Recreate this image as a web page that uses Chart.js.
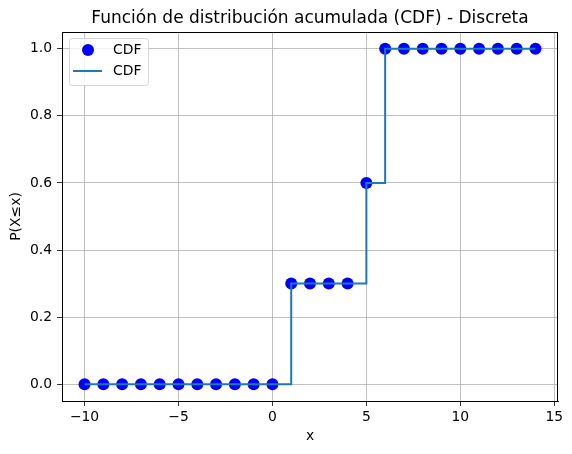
<!DOCTYPE html>
<html>
<head>
<meta charset="utf-8">
<script src="https://cdn.jsdelivr.net/npm/chart.js@4"></script>
<style>
	html, body { margin: 0; padding: 0; background: #fff; }
	#wrap { width: 572px; height: 454px; }
</style>
</head>
<body>
<div id="wrap"><canvas id="myChart" width="572" height="454"></canvas></div>
<script>
// datos
const xValues = [-10, -9, -8, -7, -6, -5, -4, -3, -2, -1, 0, 1, 2, 3, 4, 5, 6, 7, 8, 9, 10, 11, 12, 13, 14]
const cdfValues = [0, 0, 0, 0, 0, 0, 0, 0, 0, 0, 0, 0.3, 0.3, 0.3, 0.3, 0.6, 1, 1, 1, 1, 1, 1, 1, 1, 1]
const xTicks = [-10, -5, 0, 5, 10, 15]
const yTicks = [0, 0.2, 0.4, 0.6, 0.8, 1.0]
const titulo = 'Función de distribución acumulada (CDF) - Discreta'
const xLabel = 'x'
const yLabel = 'P(X≤x)'
const serieLabels = ['CDF', 'CDF']

const FONT = 'DejaVu Sans'
const points = xValues.map((x, i) => ({ x: x, y: cdfValues[i] }))

// titulo, bordes y leyenda al estilo matplotlib
const extras = {
	id: 'extras',
	afterDatasetsDraw(chart) {
		const ctx = chart.ctx
		const ca = chart.chartArea
		ctx.save()
		ctx.strokeStyle = '#000'
		ctx.lineWidth = 1
		ctx.strokeRect(ca.left + 0.5, ca.top + 0.5, ca.right - ca.left - 1, ca.bottom - ca.top)

		ctx.fillStyle = '#000'
		ctx.font = '17px "' + FONT + '"'
		ctx.textAlign = 'center'
		ctx.textBaseline = 'alphabetic'
		ctx.fillText(titulo, (ca.left + ca.right) / 2, 23)

		// leyenda
		const x0 = ca.left + 7, y0 = ca.top + 6, w = 79, h = 47, r = 3
		ctx.beginPath()
		ctx.roundRect(x0 + 0.5, y0 + 0.5, w, h, r)
		ctx.fillStyle = 'rgba(255,255,255,0.8)'
		ctx.fill()
		ctx.strokeStyle = 'rgba(204,204,204,0.8)'
		ctx.stroke()

		const ds = chart.data.datasets
		ctx.beginPath()
		ctx.arc(x0 + 19, y0 + 12, 6, 0, Math.PI * 2)
		ctx.fillStyle = ds[0].backgroundColor
		ctx.fill()

		ctx.beginPath()
		ctx.moveTo(x0 + 4, y0 + 33)
		ctx.lineTo(x0 + 33, y0 + 33)
		ctx.strokeStyle = ds[1].borderColor
		ctx.lineWidth = 2
		ctx.stroke()

		ctx.fillStyle = '#000'
		ctx.font = '13.9px "' + FONT + '"'
		ctx.textAlign = 'left'
		ctx.textBaseline = 'middle'
		ctx.fillText(ds[0].label, x0 + 44, y0 + 12)
		ctx.fillText(ds[1].label, x0 + 44, y0 + 33)
		ctx.restore()
	}
}

const grid = {
	color: '#b0b0b0',
	lineWidth: 0.8,
	drawTicks: true,
	tickLength: 5,
	tickColor: '#000',
}

new Chart(document.getElementById('myChart').getContext('2d'), {
	type: 'scatter',
	data: {
		datasets: [
			{
				label: serieLabels[0],
				data: points,
				backgroundColor: '#0000ff',
				borderWidth: 0,
				pointRadius: 6,
				pointHoverRadius: 6,
				order: 2,
			},
			{
				type: 'line',
				label: serieLabels[1],
				data: points,
				borderColor: '#1f77b4',
				backgroundColor: '#1f77b4',
				borderWidth: 2,
				pointRadius: 0,
				fill: false,
				stepped: 'before',
				tension: 0,
				order: 1,
			},
		],
	},
	options: {
		responsive: false,
		animation: false,
		layout: { padding: { top: 32, right: 14, left: 0, bottom: 0 } },
		plugins: {
			legend: { display: false },
			title: { display: false },
			tooltip: { enabled: false },
		},
		scales: {
			x: {
				type: 'linear',
				min: -11.2,
				max: 15.2,
				grid: grid,
				border: { color: '#000', width: 1 },
				afterBuildTicks: (scale) => { scale.ticks = xTicks.map(v => ({ value: v })) },
				afterFit: (scale) => { scale.height = 53 },
				ticks: {
					color: '#000',
					padding: 3,
					maxRotation: 0,
					font: { family: FONT, size: 13.9 },
					callback: (v) => v < 0 ? '\u2212' + Math.abs(v) : String(v),
				},
				title: {
					display: true,
					text: xLabel,
					color: '#000',
					font: { family: FONT, size: 13.9 },
					padding: { top: 0, bottom: 9 },
				},
			},
			y: {
				type: 'linear',
				min: -0.05,
				max: 1.05,
				grid: grid,
				border: { color: '#000', width: 1 },
				afterBuildTicks: (scale) => { scale.ticks = yTicks.map(v => ({ value: v })) },
				afterFit: (scale) => { scale.width = 62 },
				ticks: {
					color: '#000',
					padding: 5,
					font: { family: FONT, size: 13.9 },
					callback: (v) => Number(v).toFixed(1),
				},
				title: {
					display: true,
					text: yLabel,
					color: '#000',
					font: { family: FONT, size: 13.9 },
					padding: { top: 8, bottom: 0 },
				},
			},
		},
	},
	plugins: [extras],
})
</script>
</body>
</html>
